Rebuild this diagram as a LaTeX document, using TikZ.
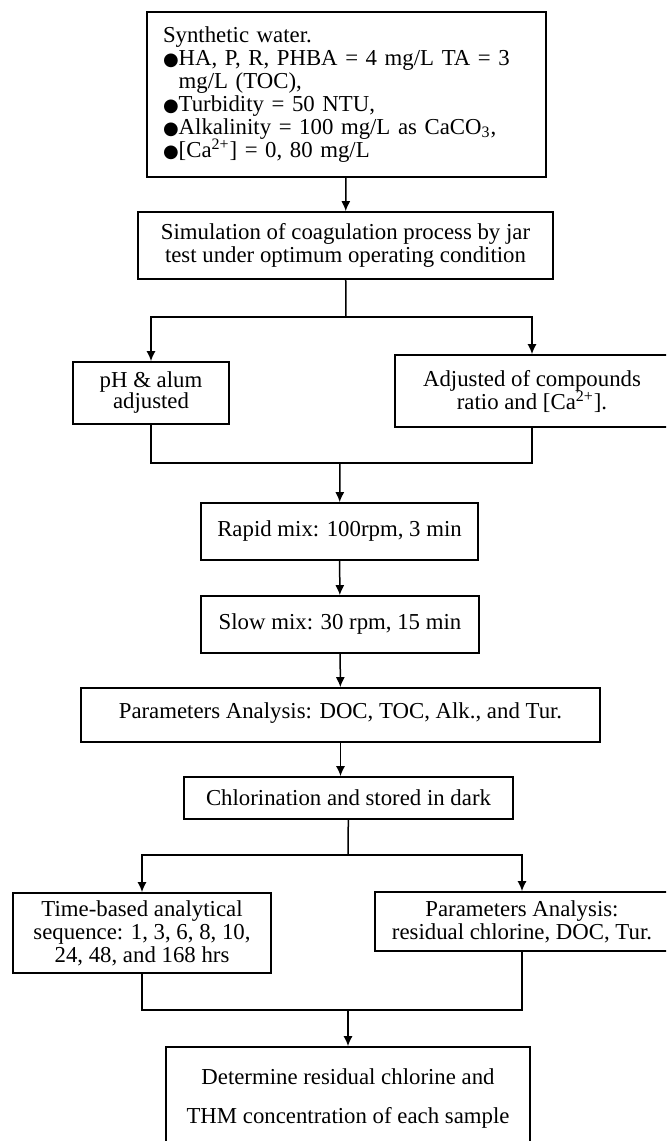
\documentclass[tikz,border=0pt]{standalone}
\usepackage{fontspec}
\setmainfont{Liberation Serif}
\newfontfamily\dotfont{DejaVu Sans}
\usetikzlibrary{arrows.meta}
\newcommand{\bul}{{\dotfont\small ●}}
\newcommand{\tightfont}{\fontsize{11.4}{10.5}\selectfont\lineskiplimit-20pt\relax}

\begin{document}
\begin{tikzpicture}[x=0.5pt, y=-0.5pt, line width=0.75pt,
  font=\fontsize{11.4}{11.5}\selectfont\lineskiplimit-20pt\relax,
  box/.style={draw, line width=0.8pt, inner sep=0pt, align=center},
  tight/.style={font=\tightfont},
  >={Latex[length=5pt,width=4.5pt]}]
  \useasboundingbox (0,0) rectangle (666,1141);
  \clip (0,0) rectangle (666,1141);

  \node[box, minimum width=199.5pt, minimum height=82.5pt, text width=183.5pt, align=left] (water) at (346.5,94.5)
    {Synthetic water.\\
     \bul HA, P, R, PHBA = 4 mg/L TA = 3\\
     \phantom{\bul}mg/L (TOC),\\
     \bul Turbidity = 50 NTU,\\
     \bul Alkalinity = 100 mg/L as CaCO\textsubscript{3},\\
     \bul [Ca\textsuperscript{2+}] = 0, 80 mg/L};
  \node[box, minimum width=207.5pt, minimum height=33.5pt] (sim) at (345.5,245.5)
    {Simulation of coagulation process by jar\\ test under optimum operating condition};
  \node[box, tight, minimum width=78pt, minimum height=31pt] (ph) at (151,393) {pH \& alum\\ adjusted};
  \node[box, minimum width=137pt, minimum height=36pt] (adj) at (532,391)
    {Adjusted of compounds\\ ratio and [Ca\textsuperscript{2+}].};
  \node[box, minimum width=138.5pt, minimum height=28.5pt] (rapid) at (339.5,531.5) {Rapid mix: 100rpm, 3 min};
  \node[box, minimum width=139pt, minimum height=28.5pt] (slow) at (340,624.5) {Slow mix: 30 rpm, 15 min};
  \node[box, minimum width=259.5pt, minimum height=27pt, text depth=4pt] (param) at (340.5,715)
    {Parameters Analysis: DOC, TOC, Alk., and Tur.};
  \node[box, minimum width=164.5pt, minimum height=21pt] (chlor) at (348.5,798) {Chlorination and stored in dark};
  \node[box, minimum width=129pt, minimum height=40pt] (time) at (142,933)
    {Time-based analytical\\ sequence: 1, 3, 6, 8, 10,\\ 24, 48, and 168 hrs};
  \node[box, minimum width=147pt, minimum height=29.5pt] (resid) at (522,921.5)
    {Parameters Analysis:\\ residual chlorine, DOC, Tur.};
  \node[box, font=\fontsize{11.4}{19.5}\selectfont, minimum width=182pt, minimum height=51.5pt] (thm) at (348,1098.5)
    {Determine residual chlorine and\\ THM concentration of each sample};

  \coordinate (split1) at (346,317);
  \coordinate (join1) at (340,463);
  \coordinate (split2) at (348,855);
  \coordinate (join2) at (348,1010);

  \path[->]
  (water) edge (sim)
  (rapid) edge (slow)
  (slow) edge (param)
  (param.south) edge (param.south |- chlor.north);
  \draw (sim) -- (split1);
  \draw[->] (split1) -| (ph.north);
  \draw[->] (split1) -| (adj.north);
  \draw (ph.south) |- (join1);
  \draw (adj.south) |- (join1);
  \draw[->] (join1) -- (rapid);
  \draw (chlor) -- (split2);
  \draw[->] (split2) -| (time.north);
  \draw[->] (split2) -| (resid.north);
  \draw (time.south) |- (join2);
  \draw (resid.south) |- (join2);
  \draw[->] (join2) -- (thm);
\end{tikzpicture}
\end{document}
